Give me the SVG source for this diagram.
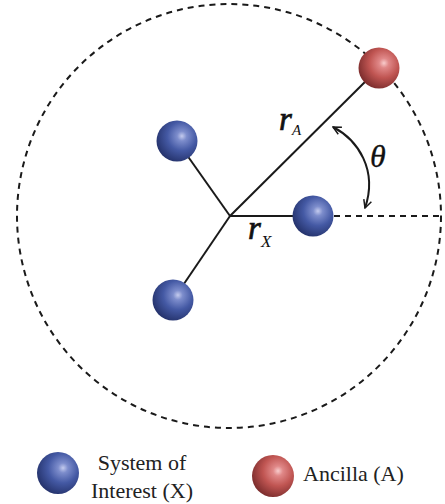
<svg xmlns="http://www.w3.org/2000/svg" width="445" height="504" viewBox="0 0 445 504">
<defs>
<radialGradient id="gBlue" cx="0.62" cy="0.38" r="0.65" fx="0.62" fy="0.38">
<stop offset="0" stop-color="#c4cbee"/>
<stop offset="0.18" stop-color="#7d8dcc"/>
<stop offset="0.55" stop-color="#4459a4"/>
<stop offset="1" stop-color="#26346e"/>
</radialGradient>
<radialGradient id="gRed" cx="0.62" cy="0.38" r="0.65" fx="0.62" fy="0.38">
<stop offset="0" stop-color="#f8cccc"/>
<stop offset="0.18" stop-color="#e08888"/>
<stop offset="0.55" stop-color="#c05552"/>
<stop offset="1" stop-color="#7e2e2e"/>
</radialGradient>
<marker id="arr" viewBox="0 0 10 10" refX="9" refY="5" markerWidth="10" markerHeight="10" markerUnits="userSpaceOnUse" orient="auto-start-reverse">
<path d="M1,1 L9,5 L1,9" fill="none" stroke="#1a1a1a" stroke-width="1.5"/>
</marker>
</defs>
<style>
.ln{stroke:#1a1a1a;stroke-width:2;fill:none}
.dash{stroke:#1a1a1a;stroke-width:2;fill:none;stroke-dasharray:6 5}
.lbl{font-family:"Liberation Serif","Times New Roman",serif;font-style:italic;fill:#111}
.heavy{stroke:#111;stroke-width:0.7}
.leg{font-family:"Liberation Serif","Times New Roman",serif;font-size:22px;fill:#222}
.blue{fill:url(#gBlue)}
.red{fill:url(#gRed)}
</style>
<rect width="445" height="504" fill="#fff"/>
<g id="connectors">
<circle class="dash" cx="229" cy="216" r="212"/>
<line class="dash" x1="334" y1="216" x2="441" y2="216"/>
<line class="ln" x1="230" y1="216" x2="379" y2="68"/>
<line class="ln" x1="230" y1="216" x2="177" y2="141"/>
<line class="ln" x1="230" y1="216" x2="173" y2="300"/>
<line class="ln" x1="230" y1="216" x2="313" y2="216"/>
<path class="ln" d="M333,127 C358,140 378,170 365,208" marker-start="url(#arr)" marker-end="url(#arr)"/>
</g>
<g id="ancilla"><circle class="red" cx="379" cy="68" r="20.5"/></g>
<g id="x1"><circle class="blue" cx="177" cy="141" r="20.5"/></g>
<g id="x2"><circle class="blue" cx="313" cy="216" r="20.5"/></g>
<g id="x3"><circle class="blue" cx="173" cy="300" r="20.5"/></g>
<g id="labels">
<text class="lbl heavy" x="279" y="130" font-size="33">r</text>
<text class="lbl" x="292" y="135" font-size="15">A</text>
<text class="lbl" x="370" y="167" font-size="32" stroke="#111" stroke-width="0.3">θ</text>
<text class="lbl heavy" x="248" y="239" font-size="33">r</text>
<text class="lbl" x="261" y="247" font-size="17">X</text>
</g>
<g id="legend-x">
<circle class="blue" cx="58" cy="473" r="21"/>
<text class="leg" x="142" y="470" text-anchor="middle">System of</text>
<text class="leg" x="142" y="498" text-anchor="middle">Interest (X)</text>
</g>
<g id="legend-a">
<circle class="red" cx="273" cy="476" r="21"/>
<text class="leg" x="303" y="481">Ancilla (A)</text>
</g>
</svg>
